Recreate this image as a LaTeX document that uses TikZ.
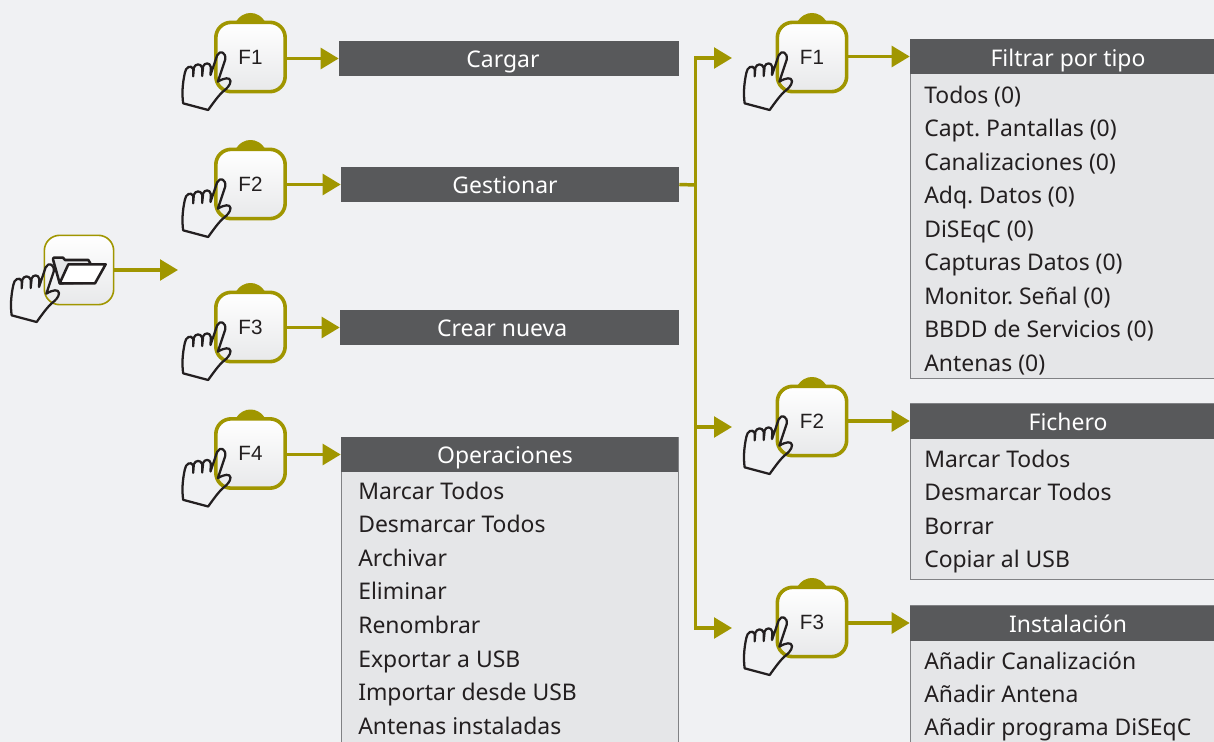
\documentclass[tikz,border=0pt]{standalone}
\usepackage{fontspec}
\setmainfont{Noto Sans}
\newfontfamily\keyfont{Liberation Sans}
\usetikzlibrary{arrows.meta}
\AtBeginDocument{\frenchspacing}
\definecolor{pagebg}{HTML}{F0F1F3}
\definecolor{olive}{HTML}{A09600}
\definecolor{barc}{HTML}{58595B}
\definecolor{bodyc}{HTML}{E5E6E8}
\definecolor{edgec}{HTML}{808184}
\definecolor{inkc}{HTML}{231F20}
\tikzset{
  keybox/.style={rectangle,rounded corners=11.5pt,draw=olive,line width=2.7pt,minimum size=52pt,inner sep=0pt,
    top color=white,bottom color=bodyc!90!white,font=\keyfont\fontsize{15.5}{15.5}\selectfont,text=inkc},
  bar/.style={rectangle,fill=barc,text=white,inner sep=0pt,font=\fontsize{17.2}{17.2}\selectfont,text height=14pt,text depth=0pt},
  panel/.style={rectangle,fill=bodyc,draw=edgec,line width=.9pt,inner sep=0pt,anchor=north west},
  item/.style={anchor=base west,inner sep=0pt,text=inkc,font=\fontsize{17.2}{17.2}\selectfont},
  link/.style={draw=olive,line width=2.6pt},
  arrowlink/.style={link,-{Triangle[length=13.5pt,width=15.5pt,color=olive]}},
  handpic/.pic={
    \begin{scope}[x=.25pt,y=-.25pt,line width=1.7pt,line join=round,draw=inkc,fill=white]
    \draw (-202,139) -- (-127,159) .. controls (-110,135) and (-95,115) .. (-84,105)
      .. controls (-72,95) and (-60,85) .. (-60,72) .. controls (-62,60) and (-78,62) .. (-98,74)
      -- (-76,8) .. controls (-72,-14) and (-92,-22) .. (-100,-5) -- (-120,54)
      -- (-119,30) .. controls (-122,15) and (-138,17) .. (-142,28) -- (-145,57)
      -- (-145,32) .. controls (-150,18) and (-165,20) .. (-170,32) -- (-172,58)
      -- (-172,36) .. controls (-178,22) and (-195,30) .. (-197,48)
      .. controls (-204,80) and (-206,110) .. (-202,139) -- cycle;
    \end{scope}
  },
  bumppic/.pic={
    \fill[olive] (-16,-33) .. controls (-11,-42) and (-5,-44) .. (0,-44)
      .. controls (5,-44) and (11,-42) .. (16,-33) -- cycle;
  },
  folderpic/.pic={
    \begin{scope}[x=.25pt,y=-.25pt,line width=1.9pt,line join=round,draw=inkc]
    \draw[fill=bodyc] (-78,-32) -- (-76,-37) -- (-48,-37) -- (-42,-30) -- (28,-30) -- (34,-20) -- (20,38) -- (-58,40) -- cycle;
    \draw[fill=white] (-32,-17) -- (80,-17) -- (48,40) -- (-58,40) -- cycle;
    \end{scope}
  },
}
\begin{document}
\begin{tikzpicture}[x=.75pt,y=-.75pt]
\clip (0,0) rectangle (1214,742);
\fill[pagebg] (0,0) rectangle (1214,742);

% first key
\node[keybox,line width=1.2pt,minimum size=52pt] (start) at (79,270) {};
\pic at (79,270) {folderpic};
\pic at (79,269) {handpic};
\coordinate (starttip) at (178,270);
\draw[arrowlink] (start.east) -- (starttip);

% keys
\foreach \n/\t/\xx/\yy in {la/F1/250.5/57,lb/F2/250.5/184,lc/F3/250.5/327,ld/F4/250.5/453.5,ra/F1/812/57,rb/F2/812/421,rc/F3/812/622}{
  \pic at (\xx,\yy) {bumppic};
  \node[keybox] (\n) at (\xx,\yy) {\t};
  \pic at (\xx,\yy) {handpic};
}

% bars
\node[bar,minimum width=255pt,minimum height=26.25pt] (cargar) at (509,58.5) {Cargar\kern 9pt};
\node[bar,minimum width=253.5pt,minimum height=26.25pt] (gest) at (510,184.5) {Gestionar\kern 7.5pt};
\node[bar,minimum width=254.25pt,minimum height=26.25pt] (crear) at (509.5,327.5) {Crear nueva\kern 11pt};

% panels
\node[panel,minimum width=252.75pt,minimum height=300pt] (opbody) at (341,437) {};
\node[bar,minimum width=252.75pt,minimum height=26.25pt] (ophead) at (509.5,454.5) {Operaciones\kern 6.75pt};
\node[panel,minimum width=237pt,minimum height=254pt] (fibody) at (910,39) {};
\node[bar,minimum width=237pt,minimum height=26.25pt,text height=15pt] (fihead) at (1068,56.5) {Filtrar por tipo};
\node[panel,minimum width=237pt,minimum height=132pt] (fcbody) at (910,403) {};
\node[bar,minimum width=237pt,minimum height=26.25pt] (fchead) at (1068,421) {Fichero};
\node[panel,minimum width=237pt,minimum height=120pt] (inbody) at (910,605) {};
\node[bar,minimum width=237pt,minimum height=26.25pt] (inhead) at (1068,623) {Instalación};

% items
\foreach \i/\t in {0/Marcar Todos,1/Desmarcar Todos,2/Archivar,3/Eliminar,4/Renombrar,5/Exportar a USB,6/Importar desde USB,7/Antenas instaladas}
  \node[item] (op\i) at (358,{499+33.6*\i}) {\t};
\foreach \i/\t in {0/Todos (0),1/Capt. Pantallas (0),2/Canalizaciones (0),3/Adq. Datos (0),4/DiSEqC (0),5/Capturas Datos (0),6/Monitor. Señal (0),7/BBDD de Servicios (0),8/Antenas (0)}
  \node[item] (fi\i) at (924,{103.5+33.45*\i}) {\t};
\foreach \i/\t in {0/Marcar Todos,1/Desmarcar Todos,2/Borrar,3/Copiar al USB}
  \node[item] (fc\i) at (924,{467+33.5*\i}) {\t};
\foreach \i/\t in {0/Añadir Canalización,1/Añadir Antena,2/Añadir programa DiSEqC}
  \node[item] (in\i) at (924,{669+33.4*\i}) {\t};

% connectors
\draw[arrowlink] (la.east |- cargar.west) -- (cargar.west);
\draw[arrowlink] (lb.east |- gest.west) -- (gest.west);
\draw[arrowlink] (lc.east |- crear.west) -- (crear.west);
\draw[arrowlink] (ld.east |- ophead.west) -- (ophead.west);
\draw[arrowlink] (ra.east |- fihead.west) -- (fihead.west);
\draw[arrowlink] (rb.east |- fchead.west) -- (fchead.west);
\draw[arrowlink] (rc.east |- inhead.west) -- (inhead.west);

\coordinate (spine) at (695.5,185);
\coordinate (tipa) at (732,58);
\coordinate (tipb) at (732,427);
\coordinate (tipc) at (732,628);
\draw[link] (gest.east) -- (spine);
\draw[arrowlink] (spine) |- (tipa);
\draw[arrowlink] (spine) |- (tipb);
\draw[arrowlink] (spine) |- (tipc);
\end{tikzpicture}
\end{document}
